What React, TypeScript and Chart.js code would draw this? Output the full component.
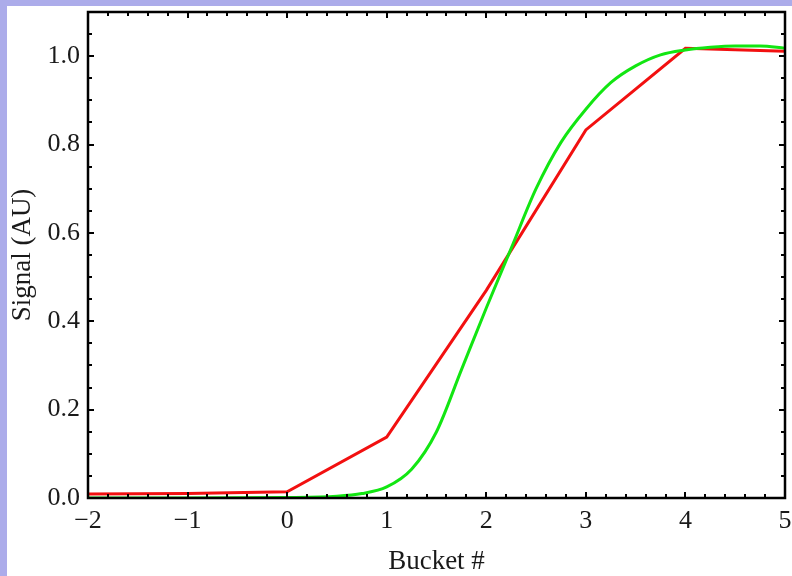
import React, { useEffect, useRef } from "react";
import { Chart, registerables } from "chart.js";

Chart.register(...registerables);

// Data
const redX = [-2, -1, 0, 1, 2, 3, 4, 5];
const redY = [0.009, 0.01, 0.014, 0.138, 0.47, 0.833, 1.018, 1.011];

const greenX = [-2, -1, 0, 0.5, 0.75, 1, 1.25, 1.5, 1.75, 2, 2.25, 2.5, 2.75, 3, 3.25, 3.5, 3.75, 4, 4.25, 4.5, 4.75, 5];
const greenY = [0, 0, 0.001, 0.004, 0.01, 0.025, 0.065, 0.15, 0.29, 0.43, 0.565, 0.7, 0.805, 0.88, 0.94, 0.978, 1.003, 1.014, 1.02, 1.023, 1.023, 1.018];

const xTickValues = [-2, -1, 0, 1, 2, 3, 4, 5];
const yTickValues = [0, 0.2, 0.4, 0.6, 0.8, 1.0];
const xMinorStep = 0.2;
const yMinorStep = 0.05;

const xTitle = "Bucket #";
const yTitle = "Signal (AU)";

const FONT = "'Liberation Serif', 'DejaVu Serif', serif";

const bgPlugin = {
  id: "bg",
  beforeDraw(chart: any) {
    const { ctx, width, height } = chart;
    ctx.save();
    ctx.fillStyle = "#acacea";
    ctx.fillRect(0, 0, width, height);
    ctx.fillStyle = "#ffffff";
    ctx.fillRect(7, 6, width - 7, height - 6);
    ctx.restore();
  },
};

const framePlugin = {
  id: "frame",
  afterDraw(chart: any) {
    const { ctx, chartArea: a, scales } = chart;
    const xs = scales.x;
    const ys = scales.y;
    ctx.save();
    ctx.strokeStyle = "#000";
    ctx.lineWidth = 2;
    const major = 6;
    const minor = 4;
    ctx.beginPath();
    const xmin = xs.min, xmax = xs.max;
    const nx = Math.round((xmax - xmin) / xMinorStep);
    for (let i = 0; i <= nx; i++) {
      const v = xmin + i * xMinorStep;
      const isMajor = xTickValues.some((t) => Math.abs(t - v) < 1e-6);
      const len = isMajor ? major : minor;
      const px = Math.round(xs.getPixelForValue(v));
      ctx.moveTo(px, a.bottom);
      ctx.lineTo(px, a.bottom - len);
      ctx.moveTo(px, a.top);
      ctx.lineTo(px, a.top + len);
    }
    const ny = Math.floor((ys.max - ys.min) / yMinorStep + 1e-6);
    for (let i = 0; i <= ny; i++) {
      const v = ys.min + i * yMinorStep;
      const isMajor = yTickValues.some((t) => Math.abs(t - v) < 1e-6);
      const len = isMajor ? major : minor;
      const py = Math.round(ys.getPixelForValue(v));
      ctx.moveTo(a.left, py);
      ctx.lineTo(a.left + len, py);
      ctx.moveTo(a.right, py);
      ctx.lineTo(a.right - len, py);
    }
    ctx.stroke();
    ctx.lineWidth = 2.5;
    ctx.strokeRect(a.left, a.top, a.right - a.left, a.bottom - a.top);
    ctx.restore();
  },
};

const fmt = (v: number, d: number) => {
  const s = Math.abs(v).toFixed(d);
  return v < 0 ? "\u2212" + s : s;
};

export default function App() {
  const ref = useRef<HTMLCanvasElement | null>(null);
  useEffect(() => {
    document.body.style.margin = "0";
    const canvas = ref.current!;
    const chart = new Chart(canvas, {
      type: "scatter",
      data: {
        datasets: [
          {
            label: "green",
            data: greenX.map((x, i) => ({ x, y: greenY[i] })),
            showLine: true,
            borderColor: "#12e612",
            borderWidth: 3,
            pointRadius: 0,
            cubicInterpolationMode: "monotone",
            order: 0,
          },
          {
            label: "red",
            data: redX.map((x, i) => ({ x, y: redY[i] })),
            showLine: true,
            borderColor: "#f21010",
            borderWidth: 3,
            pointRadius: 0,
            tension: 0,
            order: 1,
          },
        ],
      },
      options: {
        animation: false,
        responsive: false,
        layout: { padding: { top: 12, right: 7, left: 0, bottom: 0 } },
        plugins: { legend: { display: false }, tooltip: { enabled: false } },
        scales: {
          x: {
            type: "linear",
            min: -2,
            max: 5,
            afterBuildTicks: (s: any) => {
              s.ticks = xTickValues.map((v) => ({ value: v }));
            },
            afterFit: (s: any) => {
              s.height = 78;
              s.paddingLeft = 0;
              s.paddingRight = 0;
              s.paddingTop = 0;
              s.paddingBottom = 0;
            },
            grid: { display: false, drawTicks: false },
            border: { display: false },
            ticks: {
              padding: 8,
              maxRotation: 0,
              autoSkip: false,
              color: "#1a1a1a",
              font: { family: FONT, size: 26 },
              callback: (v: any) => fmt(Number(v), 0),
            },
            title: {
              display: true,
              text: xTitle,
              color: "#1a1a1a",
              font: { family: FONT, size: 27 },
              padding: { top: 0, bottom: -2 },
            },
          },
          y: {
            type: "linear",
            min: 0,
            max: 1.1,
            afterBuildTicks: (s: any) => {
              s.ticks = yTickValues.map((v) => ({ value: v }));
            },
            afterFit: (s: any) => {
              s.width = 88;
              s.paddingLeft = 0;
              s.paddingRight = 0;
              s.paddingTop = 0;
              s.paddingBottom = 0;
            },
            grid: { display: false, drawTicks: false },
            border: { display: false },
            ticks: {
              padding: 8,
              autoSkip: false,
              color: "#1a1a1a",
              font: { family: FONT, size: 26 },
              callback: (v: any) => fmt(Number(v), 1),
            },
            title: {
              display: true,
              text: yTitle,
              color: "#1a1a1a",
              font: { family: FONT, size: 27 },
              padding: { top: 7, bottom: 0 },
            },
          },
        },
      },
      plugins: [bgPlugin, framePlugin],
    } as any);
    return () => chart.destroy();
  }, []);
  return (
    <div style={{ width: 792, height: 576 }}>
      <canvas ref={ref} width={792} height={576} style={{ display: "block" }} />
    </div>
  );
}
